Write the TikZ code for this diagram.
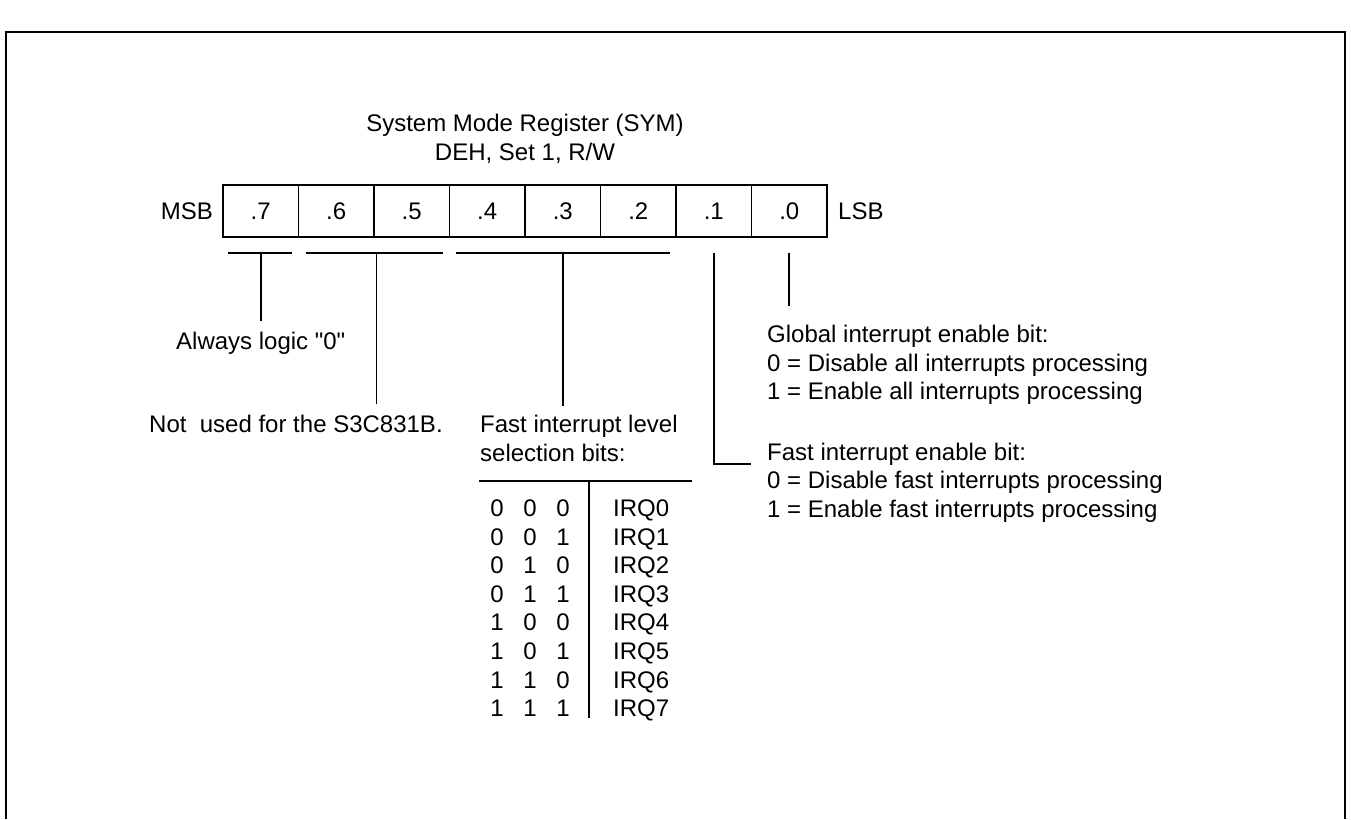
\documentclass[tikz,border=0pt]{standalone}
\usepackage{fontspec}
\setmainfont{Liberation Sans}
\usetikzlibrary{positioning}
\newcommand{\bitrow}[3]{\makebox[33pt]{#1}\makebox[33pt]{#2}\makebox[33pt]{#3}}

\begin{document}
\begin{tikzpicture}[
  x=1pt, y=-1pt,
  frame/.style={line width=2.6pt},
  line/.style={line width=1.7pt},
  bitcell/.style={rectangle, draw, line width=1.7pt, minimum width=75.5pt,
                  minimum height=52pt, inner sep=0pt,
                  font=\fontsize{24}{28.5}\selectfont},
  txt/.style={inner sep=0pt, font=\fontsize{24}{28.5}\selectfont}
]
  \useasboundingbox (0,0) rectangle (1351,819);
  \draw[frame] (6,819) -- (6,32) -- (1345,32) -- (1345,819);

  \node[txt, align=center, anchor=north, font=\fontsize{24}{29}\selectfont]
        (title) at (525,114) {System Mode Register (SYM)\\DEH, Set 1, R/W};

  % register bits
  \node[bitcell] (b7) at (260.75,211) {.7};
  \node[bitcell] (b6) at (336.25,211) {.6};
  \node[bitcell] (b5) at (411.75,211) {.5};
  \node[bitcell] (b4) at (487.25,211) {.4};
  \node[bitcell] (b3) at (562.75,211) {.3};
  \node[bitcell] (b2) at (638.25,211) {.2};
  \node[bitcell] (b1) at (713.75,211) {.1};
  \node[bitcell] (b0) at (789.25,211) {.0};
  \node[txt, anchor=east] (msb) at (213,211) {MSB};
  \node[txt, anchor=west] (lsb) at (838,211) {LSB};

  % brackets under the bit groups
  \draw[line] ([xshift=6pt,yshift=-15pt]b7.south west) -- ([xshift=-7pt,yshift=-15pt]b7.south east);
  \draw[line] ([xshift=8pt,yshift=-15pt]b6.south west) -- ([xshift=-7pt,yshift=-15pt]b5.south east);
  \draw[line] ([xshift=7pt,yshift=-15pt]b4.south west) -- ([xshift=-7pt,yshift=-15pt]b2.south east);

  \draw[line] ([yshift=-15pt]b7.south) -- ++(0,68) coordinate (e7);
  \draw[line] ([xshift=1.5pt,yshift=-15pt]b6.south east) -- ++(0,151) coordinate (e65);
  \draw[line] ([yshift=-15pt]b3.south) -- ++(0,153) coordinate (e42);
  \draw[line] ([yshift=-15pt]b1.south) -- ++(0,211) -- ++(37,0) coordinate (e1);
  \draw[line] ([yshift=-15pt]b0.south) -- ++(0,53) coordinate (e0);

  % descriptions
  \node[txt, below=11pt of e7] (always) {Always logic \textquotedbl0\textquotedbl};
  \node[txt, anchor=north west] (unused) at (149,415) {Not\ \ used for the S3C831B.};
  \node[txt, anchor=north west, align=left, font=\fontsize{24}{29.3}\selectfont]
        (level) at (480,414.5) {Fast interrupt level\\selection bits:};
  \node[txt, anchor=north west, align=left] (gie) at (767,325)
        {Global interrupt enable bit:\\0 = Disable all interrupts processing\\1 = Enable all interrupts processing};
  \node[txt, anchor=north west, align=left] (fie) at (767,442.5)
        {Fast interrupt enable bit:\\0 = Disable fast interrupts processing\\1 = Enable fast interrupts processing};

  % level table
  \coordinate (tl) at (479,481);
  \coordinate (tr) at (692,481);
  \coordinate (tm) at (589,481);
  \coordinate (tb) at (589,718);
  \draw[line] (tl) -- (tr);
  \draw[line] (tm) -- (tb);
  \node[txt, anchor=north, align=center, font=\fontsize{24}{28.6}\selectfont]
        (bits) at (530,499.5)
        {\bitrow{0}{0}{0}\\\bitrow{0}{0}{1}\\\bitrow{0}{1}{0}\\\bitrow{0}{1}{1}\\
         \bitrow{1}{0}{0}\\\bitrow{1}{0}{1}\\\bitrow{1}{1}{0}\\\bitrow{1}{1}{1}};
  \node[txt, anchor=north west, align=left, font=\fontsize{24}{28.6}\selectfont]
        (irq) at (613,499.5)
        {IRQ0\\IRQ1\\IRQ2\\IRQ3\\IRQ4\\IRQ5\\IRQ6\\IRQ7};
\end{tikzpicture}
\end{document}
